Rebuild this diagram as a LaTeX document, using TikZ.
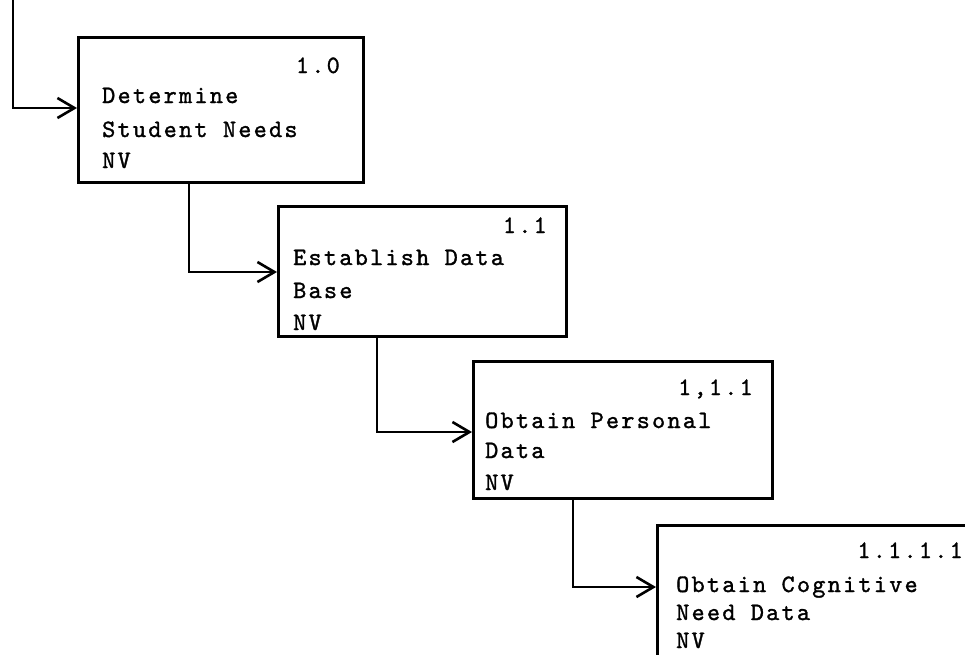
\documentclass[tikz,border=0pt]{standalone}
\usepackage{fontspec}
\newfontfamily\twfont{lmmono10-regular}[Extension=.otf, LetterSpace=9, FakeBold=1.3]
\usetikzlibrary{arrows.meta}
\tikzset{
  boxst/.style={draw, line width=2.6pt, anchor=north west, inner sep=0pt},
  txt/.style={inner sep=0pt, font=\fontsize{25}{29}\twfont},
  lt/.style={txt, anchor=base west},
  rt/.style={txt, anchor=base east},
  conn/.style={line width=2.6pt, -{Straight Barb[length=17pt,width=20pt,line width=2.6pt]}}
}
\begin{document}
\begin{tikzpicture}[x=1pt,y=-1pt]
\useasboundingbox (0,0) rectangle (965,654);
\clip (0,0) rectangle (965,654);
% boxes
\node[boxst, minimum width=285pt, minimum height=145pt] (b1) at (77,36) {};
\node[boxst, minimum width=288pt, minimum height=130pt] (b2) at (277,205) {};
\node[boxst, minimum width=299pt, minimum height=137pt] (b3) at (472,360) {};
\node[boxst, minimum width=340pt, minimum height=160pt] (b4) at (656,524) {};
% texts box 1
\node[rt] (n1) at (340,73) {1.0};
\node[lt] (a1) at (102,103) {Determine};
\node[lt] (a2) at (102,137) {Student Needs};
\node[lt] (a3) at (102,168) {NV};
% texts box 2
\node[rt] (n2) at (547,233) {1.1};
\node[lt] (b21) at (293,265) {Establish Data};
\node[lt] (b22) at (293,298) {Base};
\node[lt] (b23) at (293,330) {NV};
% texts box 3
\node[rt] (n3) at (753,395) {1,1.1};
\node[lt] (c31) at (485,428) {Obtain Personal};
\node[lt] (c32) at (485,458) {Data};
\node[lt] (c33) at (485,490) {NV};
% texts box 4
\node[rt] (n4) at (963,558) {1.1.1.1};
\node[lt] (d41) at (676,592) {Obtain Cognitive};
\node[lt] (d42) at (676,620) {Need Data};
\node[lt] (d43) at (676,648) {NV};
% connectors
\coordinate (start) at (13,0);
\coordinate (t0) at (13,108);
\coordinate (t1) at (189,272);
\coordinate (t2) at (377,432);
\coordinate (t3) at (573,587);
\draw[conn] (start) |- (b1.west |- t0);
\draw[conn] (b1.south -| t1) |- (b2.west |- t1);
\draw[conn] (b2.south -| t2) |- (b3.west |- t2);
\draw[conn] (b3.south -| t3) |- (b4.west |- t3);
\end{tikzpicture}
\end{document}
